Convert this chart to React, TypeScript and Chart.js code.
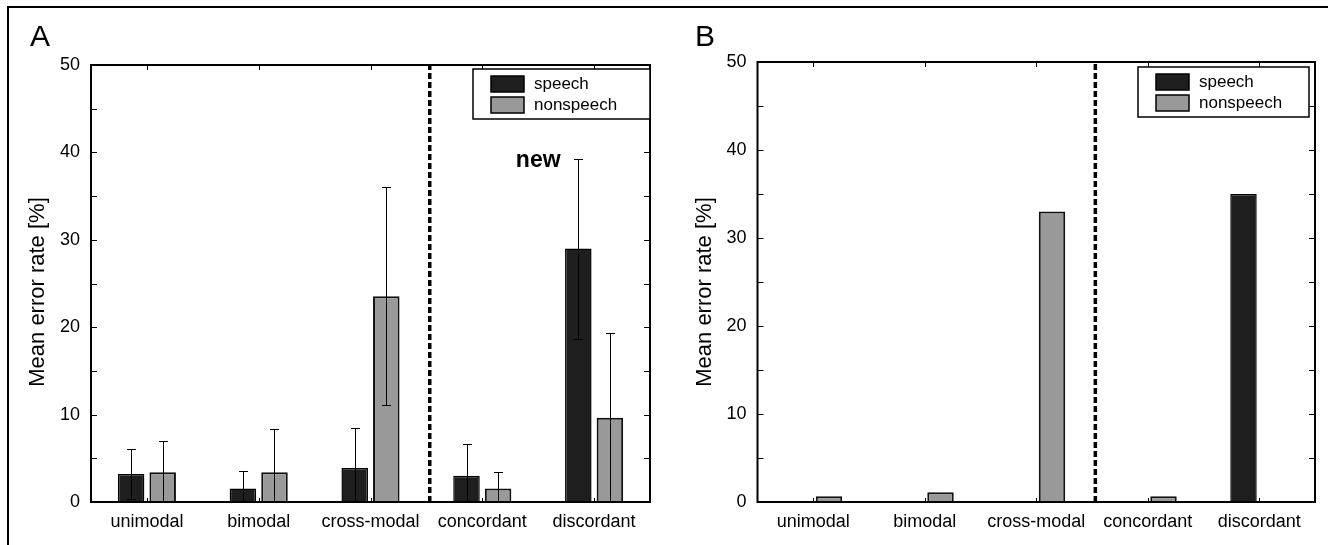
import React, { useEffect, useRef } from 'react';
import { Chart, registerables } from 'chart.js';

Chart.register(...registerables);

const categories = ['unimodal', 'bimodal', 'cross-modal', 'concordant', 'discordant'];
const seriesLabels = ['speech', 'nonspeech'];
const yTitle = 'Mean error rate [%]';

// Panel A: means and error bar half-lengths
const speechA = [3.2, 1.55, 3.9, 3.0, 29.0];
const speechErrA = [2.9, 2.0, 4.55, 3.6, 10.3];
const nonspeechA = [3.4, 3.4, 23.55, 1.55, 9.65];
const nonspeechErrA = [3.6, 4.9, 12.5, 1.85, 9.65];

// Panel B: values only
const speechB = [0, 0, 0, 0, 35.0];
const nonspeechB = [0.65, 1.1, 33.0, 0.65, 0];

const yMin = 0;
const yMax = 50;
const yLabelStep = 10;
const yMinorStep = 5;
const separatorIndex = 2.53;
const annotationText = 'new';
const annotationIndex = 3.5;
const annotationValue = 39;

const FONT = '"Liberation Sans", Arial, Helvetica, sans-serif';
const SPEECH_FILL = '#1e1e1e';
const NONSPEECH_FILL = '#999999';

const overlayPlugin = {
  id: 'overlay',
  afterDatasetsDraw(chart: any, _args: any, opts: any) {
    const ctx = chart.ctx as CanvasRenderingContext2D;
    const { left, right, top, bottom } = chart.chartArea;
    const xs = chart.scales.x;
    const ys = chart.scales.y;
    ctx.save();

    // dashed separator
    const sx = xs.getPixelForValue(separatorIndex);
    ctx.strokeStyle = '#000';
    ctx.lineWidth = 3.5;
    ctx.setLineDash([6, 3]);
    ctx.beginPath();
    ctx.moveTo(sx, bottom);
    ctx.lineTo(sx, top);
    ctx.stroke();
    ctx.setLineDash([]);

    // error bars
    const errors: (number[] | null)[] = opts.errors || [];
    errors.forEach((errs, di) => {
      if (!errs) return;
      const meta = chart.getDatasetMeta(di);
      const vals = chart.data.datasets[di].data as number[];
      meta.data.forEach((el: any, i: number) => {
        const v = vals[i];
        const e = errs[i];
        if (!e) return;
        const lo = v - e;
        const hi = v + e;
        const x = Math.round(el.x) + 0.5;
        const yHi = Math.round(ys.getPixelForValue(hi)) + 0.5;
        const yLo = Math.round(ys.getPixelForValue(Math.max(lo, yMin))) + 0.5;
        ctx.strokeStyle = '#000';
        ctx.lineWidth = 1;
        ctx.beginPath();
        ctx.moveTo(x, yLo);
        ctx.lineTo(x, yHi);
        ctx.moveTo(x - 4.5, yHi);
        ctx.lineTo(x + 4.5, yHi);
        if (lo >= -1e-9) {
          ctx.moveTo(x - 4.5, yLo);
          ctx.lineTo(x + 4.5, yLo);
        }
        ctx.stroke();
      });
    });

    // box
    ctx.strokeStyle = '#000';
    ctx.lineWidth = 2;
    ctx.strokeRect(left, top, right - left, bottom - top);

    // inward ticks
    ctx.lineWidth = 1;
    ctx.beginPath();
    for (let v = yMin; v <= yMax; v += yMinorStep) {
      const py = Math.round(ys.getPixelForValue(v)) + 0.5;
      ctx.moveTo(left, py);
      ctx.lineTo(left + 6, py);
      ctx.moveTo(right, py);
      ctx.lineTo(right - 6, py);
    }
    categories.forEach((_c, i) => {
      const px = Math.round(xs.getPixelForValue(i)) + 0.5;
      ctx.moveTo(px, top);
      ctx.lineTo(px, top + 5);
      ctx.moveTo(px, bottom);
      ctx.lineTo(px, bottom - 4);
    });
    ctx.stroke();

    // y axis title
    ctx.save();
    ctx.translate(opts.titleX, opts.titleY);
    ctx.rotate(-Math.PI / 2);
    ctx.fillStyle = '#000';
    ctx.font = `22px ${FONT}`;
    ctx.textAlign = 'center';
    ctx.textBaseline = 'middle';
    ctx.fillText(yTitle, 0, 0);
    ctx.restore();

    // annotation
    if (opts.annotation) {
      ctx.fillStyle = '#000';
      ctx.font = `bold 23px ${FONT}`;
      ctx.textAlign = 'center';
      ctx.textBaseline = 'middle';
      ctx.fillText(annotationText, xs.getPixelForValue(annotationIndex), ys.getPixelForValue(annotationValue));
    }

    // legend
    const lw = opts.legendWidth;
    const lh = 50;
    const lx = right - opts.legendRightInset - lw;
    const ly = top + opts.legendTopInset;
    ctx.fillStyle = '#fff';
    ctx.fillRect(lx, ly, lw, lh);
    ctx.strokeStyle = '#000';
    ctx.lineWidth = 1.5;
    ctx.strokeRect(lx, ly, lw, lh);
    chart.data.datasets.forEach((ds: any, i: number) => {
      const sy = ly + 7 + i * 21;
      ctx.fillStyle = ds.backgroundColor;
      ctx.fillRect(lx + 18, sy, 33, 16);
      ctx.strokeStyle = '#000';
      ctx.lineWidth = 1.5;
      ctx.strokeRect(lx + 18, sy, 33, 16);
      ctx.fillStyle = '#000';
      ctx.font = `17px ${FONT}`;
      ctx.textAlign = 'left';
      ctx.textBaseline = 'middle';
      ctx.fillText(ds.label, lx + 61, sy + 8.5);
    });

    ctx.restore();
  },
};

type PanelProps = {
  speech: number[];
  nonspeech: number[];
  speechErr?: number[];
  nonspeechErr?: number[];
  left: number;
  width: number;
  padTop: number;
  padRight: number;
  yAxisWidth: number;
  titleX: number;
  legendRightInset: number;
  legendTopInset: number;
  legendWidth: number;
  annotation?: boolean;
};

function Panel(p: PanelProps) {
  const ref = useRef<HTMLCanvasElement | null>(null);
  useEffect(() => {
    if (!ref.current) return;
    const chart = new Chart(ref.current, {
      type: 'bar',
      data: {
        labels: categories,
        datasets: [
          {
            label: seriesLabels[0],
            data: p.speech,
            backgroundColor: SPEECH_FILL,
            borderColor: '#000',
            borderWidth: 1.5,
            borderSkipped: 'start',
            categoryPercentage: 0.565,
            barPercentage: 0.84,
          },
          {
            label: seriesLabels[1],
            data: p.nonspeech,
            backgroundColor: NONSPEECH_FILL,
            borderColor: '#111',
            borderWidth: 2,
            borderSkipped: 'start',
            categoryPercentage: 0.565,
            barPercentage: 0.84,
          },
        ],
      },
      options: {
        responsive: false,
        maintainAspectRatio: false,
        animation: false,
        layout: { padding: { top: p.padTop, right: p.padRight, left: 0, bottom: 0 } },
        plugins: {
          legend: { display: false },
          tooltip: { enabled: false },
          overlay: {
            errors: [p.speechErr || null, p.nonspeechErr || null],
            legendRightInset: p.legendRightInset,
            legendTopInset: p.legendTopInset,
            legendWidth: p.legendWidth,
            annotation: !!p.annotation,
            titleX: p.titleX,
            titleY: 292,
          },
        } as any,
        scales: {
          x: {
            type: 'category',
            grid: { display: false, drawTicks: false },
            border: { display: false },
            ticks: {
              color: '#000',
              font: { family: FONT, size: 18 },
              padding: 9,
              maxRotation: 0,
              autoSkip: false,
            },
            afterFit: (s: any) => {
              s.height = 43;
            },
          },
          y: {
            min: yMin,
            max: yMax,
            grid: { display: false, drawTicks: false },
            border: { display: false },
            ticks: {
              stepSize: yLabelStep,
              color: '#000',
              font: { family: FONT, size: 18 },
              padding: 11,
            },
            afterFit: (s: any) => {
              s.width = p.yAxisWidth;
            },
          },
        },
      },
      plugins: [overlayPlugin as any],
    });
    return () => chart.destroy();
  }, []);
  return (
    <canvas
      ref={ref}
      width={p.width}
      height={545}
      style={{ position: 'absolute', left: p.left, top: 0, width: p.width, height: 545 }}
    />
  );
}

export default function App() {
  const letter: React.CSSProperties = {
    position: 'absolute',
    fontFamily: FONT,
    fontSize: 30,
    lineHeight: '30px',
    color: '#000',
  };
  return (
    <div
      style={{
        position: 'fixed',
        left: 0,
        top: 0,
        width: 1328,
        height: 545,
        background: '#fff',
        overflow: 'hidden',
      }}
    >
      <div
        style={{
          position: 'absolute',
          left: 7,
          top: 6,
          width: 1330,
          height: 560,
          borderTop: '2px solid #000',
          borderLeft: '2px solid #000',
        }}
      />
      <Panel
        speech={speechA}
        nonspeech={nonspeechA}
        speechErr={speechErrA}
        nonspeechErr={nonspeechErrA}
        left={0}
        width={664}
        padTop={65}
        padRight={14}
        yAxisWidth={91}
        titleX={38}
        legendRightInset={0}
        legendTopInset={4}
        legendWidth={177}
        annotation
      />
      <Panel
        speech={speechB}
        nonspeech={nonspeechB}
        left={664}
        width={664}
        padTop={62}
        padRight={13}
        yAxisWidth={93.5}
        titleX={41}
        legendRightInset={6}
        legendTopInset={5}
        legendWidth={171}
      />
      <div style={{ ...letter, left: 30, top: 21 }}>A</div>
      <div style={{ ...letter, left: 695, top: 21 }}>B</div>
    </div>
  );
}
